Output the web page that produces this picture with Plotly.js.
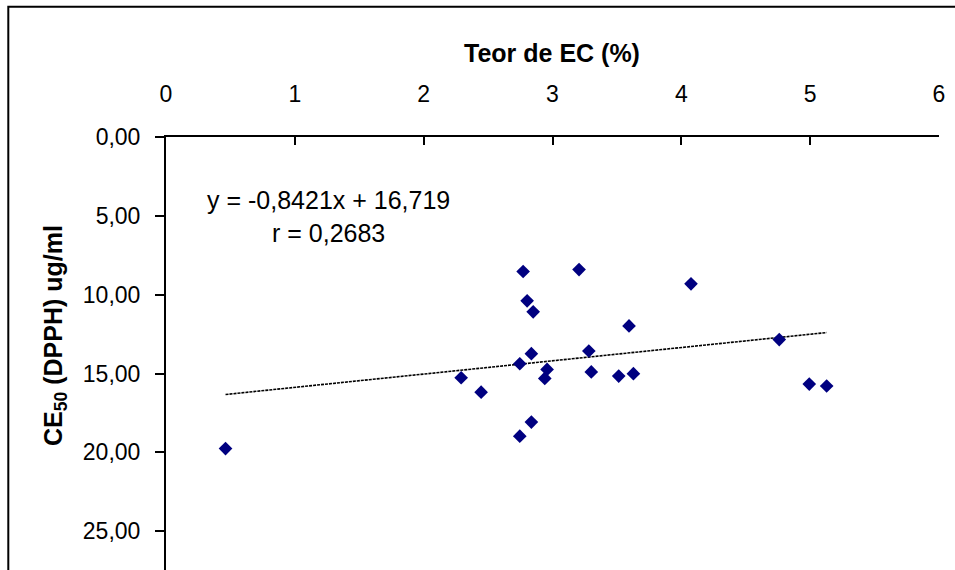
<!DOCTYPE html>
<html>
<head>
<meta charset="utf-8">
<script src="https://cdn.plot.ly/plotly-3.0.1.min.js"></script>
<style>html,body{margin:0;padding:0;background:#fff;}#chart{width:955px;height:570px;}</style>
</head>
<body>
<div id="chart"></div>
<script>
// Data
const teorEC = [2.772, 3.206, 4.075, 2.803, 2.850, 3.594, 2.836, 3.282, 2.746, 2.958, 2.940,
                2.291, 3.301, 3.514, 3.628, 2.446, 2.836, 2.746, 4.760, 4.993, 5.128, 0.462];
const ce50 = [8.53, 8.41, 9.31, 10.39, 11.09, 11.98, 13.74, 13.57, 14.38, 14.74, 15.31,
              15.27, 14.90, 15.16, 15.01, 16.18, 18.08, 18.97, 12.85, 15.67, 15.79, 19.76];
const trendSlope = -0.8421;
const trendIntercept = 16.719;
const equationLabel = "y = -0,8421x + 16,719<br>r = 0,2683";
const xTitle = "Teor de EC (%)";
const yTitle = "CE<sub>50</sub> (DPPH) ug/ml";

const xMin = Math.min(...teorEC), xMax = Math.max(...teorEC);
const trendX = [xMin, xMax];
const trendY = trendX.map(v => trendSlope * v + trendIntercept);

const FONT = "Liberation Sans, Arial, sans-serif";

const traces = [
  {
    x: trendX, y: trendY, type: 'scatter', mode: 'lines',
    line: {color: '#000000', width: 1.6, dash: '3px,1px'},
    hoverinfo: 'skip', showlegend: false
  },
  {
    x: teorEC, y: ce50, type: 'scatter', mode: 'markers',
    marker: {symbol: 'diamond', size: 10.5, color: '#000080', line: {width: 0}},
    showlegend: false
  }
];

const layout = {
  width: 955, height: 570,
  margin: {l: 166, r: 16, t: 137, b: 0, pad: 0},
  paper_bgcolor: '#ffffff', plot_bgcolor: '#ffffff',
  separators: ',.',
  font: {family: FONT, color: '#000000'},
  showlegend: false,
  xaxis: {
    side: 'top', range: [0, 6], tick0: 0, dtick: 1,
    showgrid: false, zeroline: false,
    showline: true, linecolor: '#000000', linewidth: 2,
    ticks: 'inside', ticklen: 8, tickwidth: 2, tickcolor: '#000000',
    ticklabelstandoff: 24,
    tickfont: {family: FONT, size: 23, color: '#000000'}
  },
  yaxis: {
    range: [27.46, 0], tick0: 0, dtick: 5, tickformat: '.2f',
    showgrid: false, zeroline: false,
    showline: true, linecolor: '#000000', linewidth: 2,
    ticks: 'outside', ticklen: 9, tickwidth: 2, tickcolor: '#000000',
    ticklabelstandoff: 10,
    tickfont: {family: FONT, size: 23, color: '#000000'}
  },
  annotations: [
    {
      text: xTitle, xref: 'x', yref: 'paper', x: 2.995, y: (570 - 53) / 433,
      xanchor: 'center', yanchor: 'middle', showarrow: false,
      font: {family: FONT, size: 25, weight: 'bold', color: '#000000'}
    },
    {
      text: yTitle, xref: 'paper', yref: 'paper', x: (55 - 166) / 773, y: (570 - 336) / 433,
      xanchor: 'center', yanchor: 'middle', textangle: -90, showarrow: false,
      font: {family: FONT, size: 25, weight: 'bold', color: '#000000'}
    },
    {
      text: equationLabel, xref: 'x', yref: 'y', x: 1.261, y: 5.04,
      xanchor: 'center', yanchor: 'middle', align: 'center', showarrow: false,
      font: {family: FONT, size: 25, color: '#000000'}
    }
  ],
  shapes: [
    {
      type: 'rect', xref: 'paper', yref: 'paper',
      x0: (8.3 - 166) / 773, x1: (962 - 166) / 773,
      y0: (570 - 580) / 433, y1: (570 - 6.7) / 433,
      line: {color: '#000000', width: 2}, fillcolor: 'rgba(0,0,0,0)', layer: 'above'
    }
  ]
};

Plotly.newPlot('chart', traces, layout, {staticPlot: true, displayModeBar: false});
</script>
</body>
</html>
